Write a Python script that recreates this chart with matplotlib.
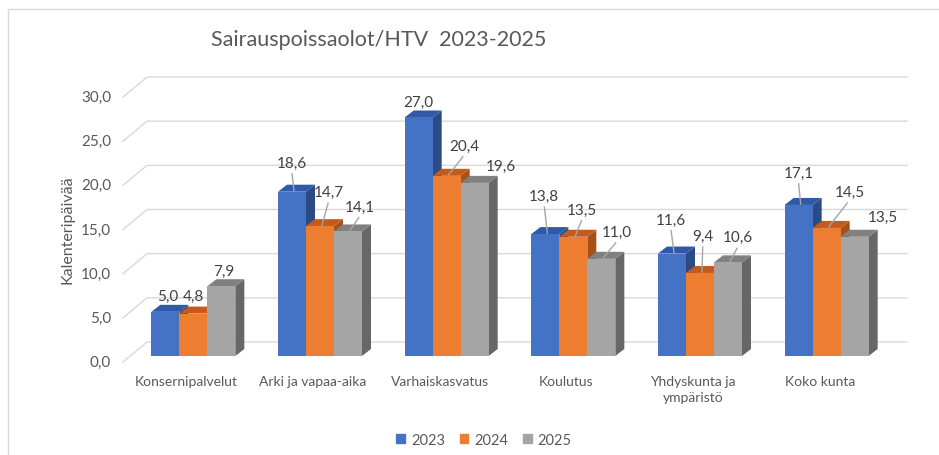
import numpy as np
import matplotlib.pyplot as plt
from matplotlib.patches import Polygon, Patch
from matplotlib.lines import Line2D

plt.rcParams['font.family'] = ['Lato', 'DejaVu Sans']

# data
categories = ['Konsernipalvelut', 'Arki ja vapaa-aika', 'Varhaiskasvatus', 'Koulutus',
              'Yhdyskunta ja\nympäristö', 'Koko kunta']
years = ['2023', '2024', '2025']
v2023 = [5.0, 18.6, 27.0, 13.8, 11.6, 17.1]
v2024 = [4.8, 14.7, 20.4, 13.5, 9.4, 14.5]
v2025 = [7.9, 14.1, 19.6, 11.0, 10.6, 13.5]
series = [v2023, v2024, v2025]

# styles
front_cols = ['#4472C4', '#ED7D31', '#A5A5A5']
top_cols = ['#3059A8', '#C55A1A', '#808080']
side_cols = ['#2C4A85', '#A8501A', '#676767']
txt = '#595959'
grid = '#D9D9D9'

# label offsets (pixels: right, up) from bar top center
lab_dx = [[2, 0, 0, -1, -1, 0], [0, 9, 18, 9, 3, 23], [2, 12, 26, 16, 10, 28]]
lab_dy = [[16, 29, 16, 38, 34, 32], [18, 34, 30, 27, 37, 36], [15, 25, 17, 27, 25, 20]]

W, H = 939, 456
fig = plt.figure(figsize=(W / 100, H / 100), dpi=100)
ax = fig.add_axes([130 / W, (H - 357) / H, 760 / W, 265 / H])
ax.set_xlim(-0.5, 5.5)
ax.set_ylim(0, 30)
ax.axis('off')

px = 760 / 6   # pixels per x unit
py = 265 / 30  # pixels per y unit
def dx(p): return p / px
def dy(p): return p / py

# chart border (left/top)
fig.add_artist(Line2D([8 / W, 8 / W, 1], [0, 1 - 10 / H, 1 - 10 / H], color=grid, lw=1))

# back wall gridlines + y tick labels
for t in np.arange(0, 31, 5):
    xs = [-0.5 + dx(-7), -0.5 + dx(17), 5.5 + dx(17)]
    ys = [t + dy(-6), t + dy(14), t + dy(14)]
    ax.plot(xs, ys, color=grid, lw=1, clip_on=False, zorder=1)
    ax.text(-0.5 + dx(-19), t + dy(-6), f'{t:.1f}'.replace('.', ','), ha='right', va='center',
            fontsize=11, color=txt)

# bars
w = 28 / px
ddx, ddy = dx(9), dy(7)
for j, vals in enumerate(series):
    xs = np.arange(len(categories)) + (j - 1.5) * w
    bars = ax.bar(xs, vals, width=w, align='edge', color=front_cols[j], lw=0, clip_on=False)
    z = 3 + j * 0.1
    for i, (b, v) in enumerate(zip(bars, vals)):
        x0, x1 = xs[i], xs[i] + w
        side = Polygon([(x1, 0), (x1 + ddx, ddy), (x1 + ddx, v + ddy), (x1, v)],
                       closed=True, fc=side_cols[j], lw=0, zorder=z, clip_on=False)
        top = Polygon([(x0, v), (x0 + ddx, v + ddy), (x1 + ddx, v + ddy), (x1, v)],
                      closed=True, fc=top_cols[j], lw=0, zorder=z + 0.01, clip_on=False)
        ax.add_patch(side)
        ax.add_patch(top)
        b.set_zorder(z + 0.02)
        # data label
        cx = x0 + w / 2
        lx = cx + dx(lab_dx[j][i])
        ly = v + dy(lab_dy[j][i])
        ax.text(lx, ly, f'{v:.1f}'.replace('.', ','), ha='center', va='center',
                fontsize=11, color='#404040', zorder=10)
        if lab_dy[j][i] >= 22:
            ax.plot([lx - dx(0.1 * lab_dx[j][i]), cx + dx(2)], [ly - dy(11), v + dy(1)],
                    color='#A6A6A6', lw=1, zorder=9, clip_on=False)

# category labels
for i, c in enumerate(categories):
    ax.text(i + dx(-7), dy(-19), c, ha='center', va='top', fontsize=10, color=txt,
            linespacing=1.45, multialignment='center')

# axis title
fig.text(67 / W, 1 - 230 / H, 'Kalenteripäivää', rotation=90, ha='center', va='center',
         fontsize=11.5, color=txt)

# title
fig.text(379 / W, 1 - 40 / H, 'Sairauspoissaolot/HTV  2023-2025', ha='center', va='center',
         fontsize=15.5, color=txt)

# legend
handles = [Patch(color=c, label=y) for c, y in zip(front_cols, years)]
leg = fig.legend(handles=handles, loc='center', bbox_to_anchor=(484 / W, 1 - 441 / H), ncol=3,
                 frameon=False, handlelength=0.6, handleheight=0.6, handletextpad=0.4,
                 columnspacing=1.0, fontsize=10.5)
for t in leg.get_texts():
    t.set_color(txt)

fig.savefig('out.png', dpi=100)
